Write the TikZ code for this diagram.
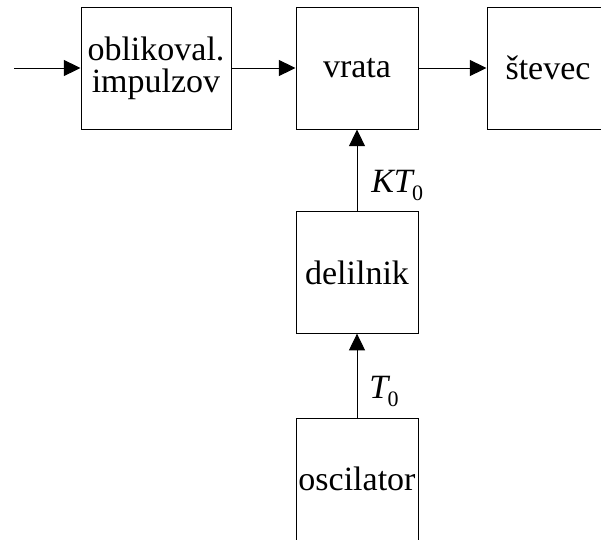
\documentclass[tikz,border=0pt]{standalone}
\usepackage{fontspec}
\setmainfont{Liberation Serif}
\usetikzlibrary{arrows.meta}
\tikzset{
  block/.style={draw, line width=0.75pt, inner sep=0pt, align=center,
    font=\fontsize{25.5pt}{24pt}\selectfont},
  flow/.style={line width=0.75pt, -{Triangle[length=12.5pt,width=12pt]}},
  sig/.style={inner sep=0pt, anchor=base west, font=\fontsize{25.5pt}{24pt}\selectfont}
}
\newcommand{\subz}{\kern-2pt\raisebox{-6pt}{\fontsize{16.5pt}{16.5pt}\selectfont 0}}
\begin{document}
\begin{tikzpicture}[x=0.75pt,y=-0.75pt]
  \useasboundingbox (0,0) rectangle (601,540);
  % upper chain
  \node[block, minimum width=112.5pt, minimum height=91.5pt] (obl) at (156,68) {oblikoval.\\impulzov};
  \node[block, minimum width=91.5pt, minimum height=91.5pt] (vrata) at (357,68) {vrata};
  \node[block, minimum width=91.5pt, minimum height=91.5pt] (stev) at (548,68) {števec};
  % timebase chain
  \node[block, minimum width=91.5pt, minimum height=91pt] (del) at (357,272.5) {delilnik};
  \node[block, minimum width=91.5pt, minimum height=91.5pt] (osc) at (357,479) {oscilator};
  \coordinate (in) at (14,68);
  % connectors
  \draw[flow] (in) -- (obl);
  \draw[flow] (obl) -- (vrata);
  \draw[flow] (vrata) -- (stev);
  \draw[flow] (del) -- (vrata);
  \draw[flow] (osc) -- (del);
  % signal labels
  \node[sig] (kt) at (371,192) {\textit{KT}\subz};
  \node[sig] (t0) at (369,398) {\textit{T}\subz};
\end{tikzpicture}
\end{document}
